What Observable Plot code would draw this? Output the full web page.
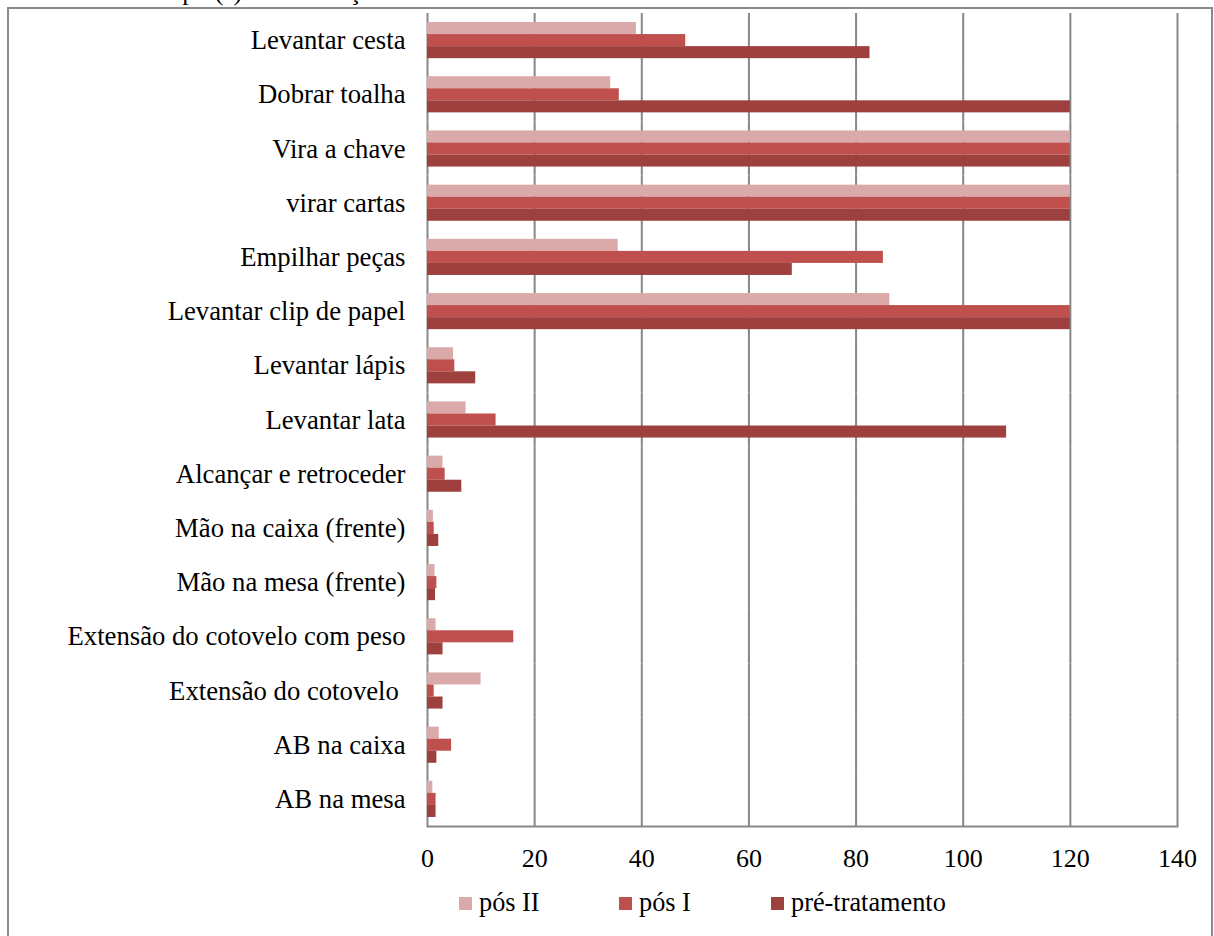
<!DOCTYPE html>
<html>
<head>
<meta charset="utf-8">
<script src="https://cdn.jsdelivr.net/npm/d3@7"></script>
<script src="https://cdn.jsdelivr.net/npm/@observablehq/plot@0.6"></script>
<style>
html, body { margin: 0; padding: 0; overflow: hidden; background: #fff; width: 1214px; height: 936px; }
body { position: relative; font-family: "Liberation Serif", "Times New Roman", serif; color: #000; }
#title { position: absolute; left: 12px; top: -21px; font-size: 26px; line-height: 26px; white-space: nowrap; }
#frame { position: absolute; left: 7px; top: 7px; width: 1206px; height: 1000px; border: 2px solid #8a8a8a; box-sizing: border-box; }
#chart { position: absolute; left: 0; top: 0; }
#legend { position: absolute; top: 888px; left: 459px; height: 30px; display: flex; align-items: center; font-size: 26.3px; }
.item { display: flex; align-items: center; }
.sw { width: 13px; height: 13px; margin-right: 7px; }
</style>
</head>
<body>
<div id="title">Gráfico 3 – Tempo (s) de realização das tarefas do WMFT</div>
<div id="frame"></div>
<div id="chart"></div>
<div id="legend"></div>
<script>
const tasks = [
  "Levantar cesta",
  "Dobrar toalha",
  "Vira a chave",
  "virar cartas",
  "Empilhar peças",
  "Levantar clip de papel",
  "Levantar lápis",
  "Levantar lata",
  "Alcançar e retroceder",
  "Mão na caixa (frente)",
  "Mão na mesa (frente)",
  "Extensão do cotovelo com peso",
  "Extensão do cotovelo\u00a0",
  "AB na caixa",
  "AB na mesa"
];
const seriesNames = ["pós II", "pós I", "pré-tratamento"];
const seriesColors = ["#DAAAAA", "#C0504D", "#9E413E"];
const posII = [39.0, 34.2, 120, 120, 35.6, 86.3, 4.85, 7.2, 2.9, 1.1, 1.4, 1.6, 10.0, 2.2, 1.0];
const posI  = [48.2, 35.8, 120, 120, 85.1, 120, 5.1, 12.8, 3.3, 1.25, 1.75, 16.1, 1.25, 4.5, 1.6];
const pre   = [82.6, 120, 120, 120, 68.1, 120, 9.0, 108.1, 6.4, 2.1, 1.5, 2.9, 2.9, 1.75, 1.6];
const xTicks = [0, 20, 40, 60, 80, 100, 120, 140];

const seriesValues = [posII, posI, pre];
const rows = tasks.flatMap((t, i) => seriesNames.map((s, k) => ({task: t, series: s, value: seriesValues[k][i]})));

const chart = Plot.plot({
  width: 1214,
  height: 880,
  marginLeft: 427,
  marginRight: 37,
  marginTop: 13,
  marginBottom: 54,
  style: {background: "transparent", fontFamily: "'Liberation Serif', 'Times New Roman', serif", fontSize: "26px", color: "#000"},
  x: {domain: [0, 140]},
  y: {domain: seriesNames, paddingInner: 0, paddingOuter: 0.75, round: false, axis: null},
  fy: {domain: tasks, paddingInner: 0, paddingOuter: 0, round: false},
  color: {domain: seriesNames, range: seriesColors},
  marks: [
    Plot.gridX(xTicks, {stroke: "#878787", strokeOpacity: 1, strokeWidth: 2}),
    Plot.barX(rows, {fy: "task", y: "series", x1: 0, x2: "value", fill: "series"}),
    Plot.frame({anchor: "bottom", facetAnchor: "bottom", stroke: "#878787", strokeWidth: 2}),
    Plot.axisX({ticks: xTicks, tickSize: 0, tickPadding: 22, fontSize: 26, label: null}),
    Plot.axisFy({anchor: "left", label: null, tickSize: 0, tickPadding: 22, fontSize: 26.7})
  ]
});
document.getElementById("chart").appendChild(chart);

const legend = document.getElementById("legend");
const itemWidths = [160, 152, null];
seriesNames.forEach((s, k) => {
  const it = document.createElement("div");
  it.className = "item";
  if (itemWidths[k]) it.style.width = itemWidths[k] + "px";
  const sw = document.createElement("div");
  sw.className = "sw";
  sw.style.background = seriesColors[k];
  const tx = document.createElement("span");
  tx.textContent = s;
  it.appendChild(sw);
  it.appendChild(tx);
  legend.appendChild(it);
});
</script>
</body>
</html>
